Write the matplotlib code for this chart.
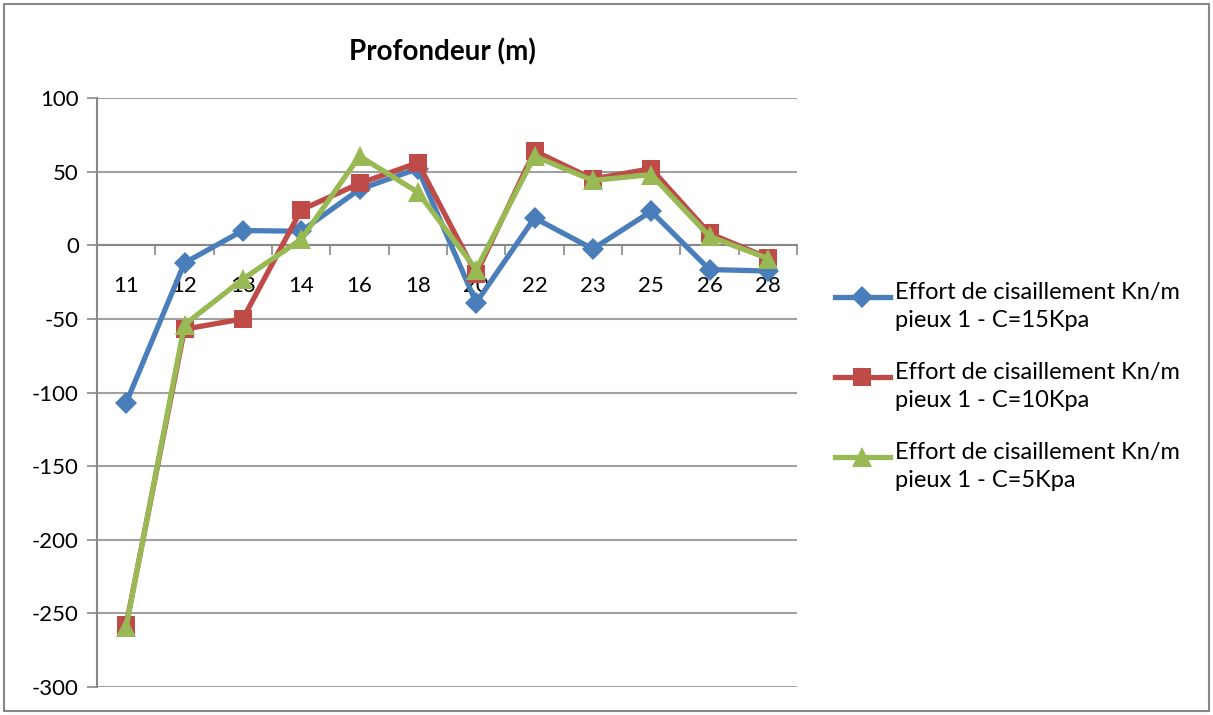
import numpy as np
import matplotlib.pyplot as plt
from matplotlib.lines import Line2D
from matplotlib.patches import Rectangle

# profondeur (m)
depths = ['11', '12', '13', '14', '16', '18', '20', '22', '23', '25', '26', '28']

c15 = [-107, -12, 10, 9.5, 38, 52, -39, 18.5, -2.5, 23, -16.5, -17.5]
c10 = [-258, -57, -50, 24, 42, 56, -19.5, 64, 45, 52, 8, -8.5]
c5 = [-259, -54, -23, 4, 60.5, 36, -16.5, 60.5, 44, 48, 6, -9]

labels = ['Effort de cisaillement Kn/m\npieux 1 - C=15Kpa',
          'Effort de cisaillement Kn/m\npieux 1 - C=10Kpa',
          'Effort de cisaillement Kn/m\npieux 1 - C=5Kpa']
colors = ['#4A7EBB', '#BE4B48', '#98B954']
markers = ['D', 's', '^']
msizes = [11, 13, 14]

plt.rcParams['font.family'] = ['Lato', 'DejaVu Sans']
plt.rcParams['axes.unicode_minus'] = False

W, H = 1213, 715
fig = plt.figure(figsize=(W / 100, H / 100), dpi=100)
fig.patches.append(Rectangle((4 / W, 4 / H), 1 - 8 / W, 1 - 8 / H, transform=fig.transFigure,
                             fill=False, edgecolor='#888888', lw=1.5))

ax = fig.add_axes([97 / W, 1 - 687 / H, 700 / W, 589 / H])
x = np.arange(len(depths))
for vals, col, mk, ms in zip([c15, c10, c5], colors, markers, msizes):
    ax.plot(x, vals, color=col, lw=3.8, marker=mk, markersize=ms, markeredgewidth=0, zorder=3)

ax.set_xlim(-0.5, len(depths) - 0.5)
ax.set_ylim(-300, 100)
ax.set_yticks(np.arange(-300, 101, 50))
ax.yaxis.grid(True, color='#A0A0A0', lw=1.5)
ax.set_axisbelow(True)
ax.tick_params(axis='y', labelsize=16, length=7, color='#888888', width=1.2, pad=6)

for s in ['top', 'right']:
    ax.spines[s].set_visible(False)
ax.spines['left'].set_color('#888888')
ax.spines['left'].set_linewidth(1.5)
ax.spines['bottom'].set_position(('data', 0))
ax.spines['bottom'].set_color('#888888')
ax.spines['bottom'].set_linewidth(1.5)

ax.set_xticks(x)
ax.set_xticklabels(depths, fontsize=16)
ax.set_xticks(np.arange(-0.5, len(depths)), minor=True)
ax.tick_params(axis='x', which='major', length=0, pad=22)
ax.tick_params(axis='x', which='minor', length=7, color='#888888', width=1.2)

fig.text(442 / W, 1 - 52 / H, 'Profondeur (m)', ha='center', va='center',
         fontsize=20, fontweight='bold')

# legende
for i, (lab, col, mk, ms) in enumerate(zip(labels, colors, markers, msizes)):
    yl = 1 - (297 + 80 * i) / H
    fig.add_artist(Line2D([835 / W, 890 / W], [yl, yl], transform=fig.transFigure,
                          color=col, lw=3.8))
    fig.add_artist(Line2D([862 / W], [yl], transform=fig.transFigure, color=col,
                          marker=mk, markersize=ms, markeredgewidth=0))
    fig.text(895 / W, yl + 15 / H, lab, ha='left', va='top', fontsize=17, linespacing=1.4)

fig.savefig('out.png', dpi=100)
